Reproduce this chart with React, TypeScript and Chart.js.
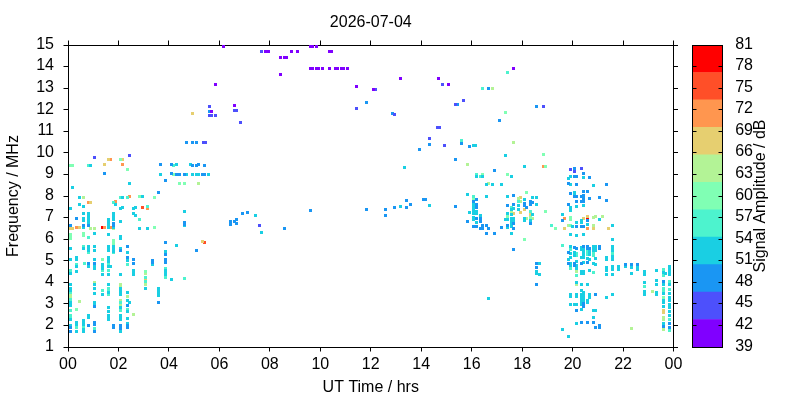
import React, { useEffect, useRef } from "react";
import { Chart, registerables } from "chart.js";

Chart.register(...registerables);

type Column = [number, number[]];

const chartDate = "2026-07-04";
const xAxisName = "UT Time / hrs";
const yAxisName = "Frequency / MHz";
const barName = "Signal Amplitude / dB";

const levelColors = ["#8000ff", "#4d50fc", "#1a96f3", "#1acfe3", "#4df3ce", "#80ffb4", "#b3f396", "#e6cf70", "#ff964f", "#ff4f28", "#ff0000"];
const levelEdges = [39, 42.82, 46.64, 50.45, 54.27, 58.09, 61.91, 65.73, 69.55, 73.36, 77.18, 81];

const purple: Column[] = [[6.15,[14.94]],[7.82,[14.71]],[7.93,[14.71]],[8.85,[14.71]],[9.09,[14.71]],[9.6,[14.94,13.92]],[9.68,[14.94,13.92]],[9.84,[14.94,13.92]],[10.35,[14.71,13.92]],[10.43,[14.71]],[8.41,[14.43,13.64]],[8.57,[14.43]],[8.65,[14.43]],[9.92,[13.92]],[10.08,[13.92]],[10.59,[13.92]],[10.67,[13.92]],[10.83,[13.92]],[10.91,[13.92]],[11.07,[13.92]],[5.83,[13.18]],[11.43,[13.08]],[13.17,[13.45]],[14.68,[13.45]],[15.08,[13.18]],[17.65,[13.92]],[12.1,[12.94]],[5.67,[11.92]],[6.59,[12.2]]];

const indigo: Column[] = [[7.66,[14.71]],[12.18,[12.94]],[5.59,[12.16,11.74]],[5.67,[11.74]],[5.83,[11.74]],[6.59,[11.97]],[6.67,[11.97]],[6.82,[11.41]],[11.43,[12.06]],[12.93,[11.79]],[14.84,[13.18]],[15.67,[12.43]],[15.35,[12.23]],[14.63,[11.18]],[14.71,[11.18]],[18.84,[12.15]],[14.32,[10.67]],[14.92,[10.35]],[1.07,[9.79]],[2.42,[9.88]],[5.38,[10.49]],[5.46,[10.49]],[7.58,[6.64]],[19.91,[9.24]],[20.07,[9.14]],[20.35,[9.28]]];

const blue: Column[] = [[5.59,[11.92]],[11.82,[12.34,7.38]],[12.85,[11.83]],[16.66,[12.99,6.5]],[15.43,[12.23]],[17.1,[11.51]],[18.57,[12.15]],[4.69,[10.49]],[4.92,[10.49]],[5.08,[10.49,9.42,5.48]],[14.32,[10.4]],[13.92,[10.16]],[15.59,[10.44]],[15.91,[10.3]],[15.35,[9.7,7.52]],[16.9,[9.19,6.27]],[1.43,[9.05]],[3.65,[9.47]],[4.09,[9.47,9.05]],[4.32,[9]],[4.4,[9]],[4.6,[9,6.78,6.7]],[4.92,[9.42]],[5.16,[9.47]],[5.32,[9]],[5.4,[9]],[5.43,[9.42]],[3.85,[8.73,5.85,5.3,5.07,4.93]],[3.57,[8.17,3.07]],[0.32,[6.96]],[0.83,[6.64,4.88,2]],[1.82,[6.73,6.64,2,1.91]],[0.08,[6.64,1.91,1.73]],[0.6,[6.64]],[2.1,[5.48,2,1.87]],[2.34,[5.67,5.16,2.93,2,1.91]],[2.58,[5.07,4.88]],[3.33,[5.02,4.93]],[1.07,[4.88,2.88,2.14,2.05,1.73]],[6.43,[6.83,6.69]],[6.59,[6.83]],[6.67,[6.92,6.73]],[6.9,[7.2]],[7.1,[7.24]],[8.57,[6.5]],[9.6,[7.34]],[12.57,[7.38,7.1]],[12.93,[7.47]],[13.41,[7.8,7.47]],[13.57,[7.61]],[14.08,[7.85]],[14.16,[7.85]],[15.83,[6.83]],[16.07,[7.75,6.6]],[16.18,[7.85,7.61,7.47,6.97,6.6]],[16.34,[6.97,6.83,6.5]],[16.42,[6.64,6.5]],[16.58,[6.64,6.27]],[17.18,[6.55]],[17.41,[7.57,6.64]],[17.65,[8.03,7.61,6.73,6.5,5.53]],[18.09,[7.66,7.57]],[18.17,[7.47]],[18.33,[7.75,7.61,6.73]],[18.41,[7.7]],[18.56,[4.88,4.7,3.9]],[19.6,[6.87]],[20.07,[9.28,8.91,7.98,5.62,4.88,4.79]],[20.43,[9.05,8.22,8.03,7.89,7.75,6.59,5.67,3.02,2.89]],[20.67,[8.87,7.89,5.57]],[20.15,[8.91,8.54,7.98,7.75,6.59,5.57,2.7]],[19.84,[8.59,7.61,5.39,4.88]],[21.34,[8.54,7.8]],[19.91,[8.12]],[20.35,[7.98,7.75,6.59,4.88,2.14]],[20.59,[8.22,6.87,5.67,5.57,4.92,2.14]],[21.06,[7.94,5.67,5.57,2,1.91]],[20.83,[2.14]],[20.9,[3.44,1.91]],[22.1,[4.83]],[22.33,[4.83]],[22.57,[4.83]],[23.6,[4.04,1.96]],[23.84,[2.1,1.91]]];

const cyan: Column[] = [[0.08,[7.43,5.57,5.07,4.41,3.9,3.72,3.63,3.07,2.93,2.28,2]],[0.16,[8.4]],[0.32,[5.16,5.07,4.74,4.5,2.14,2.05,1.73]],[0.44,[7.94,7.61]],[0.6,[7.52,7.2,6.96,6.87,6.55,5.57,2.23,2.14,2.05,1.82,1.73]],[0.83,[7.2,7.1,7,6.9,6.82,6.73,5.67,5.57,5.48,4.74,2.47,2.37]],[0.91,[9.42]],[1.07,[6.27,5.67,5.48,5.07,4.74,4.65,3.9,3.7,3.5,3.07,3]],[1.35,[4.83,4.74,4.65,4.37,3.44]],[1.59,[6.92,6.82,6.73,6.64,6.55,6.22,5.67,5.57,5.48,5.16,5.07,4.97,4.74,4.37,3.9,3.53,2.84,2.65,2.47,2.37,2.28]],[1.67,[4.74]],[1.82,[7.2,7.1,7,6.92,6.55,5.65,5.55,5.45]],[1.9,[7.61]],[2.1,[7.43,6.82,6.13,6.05,5.57,4.37,3.72,3.63,3.53,3.44,2.84,2.47,2.37,2.28,1.73]],[2.18,[7.94,7.47]],[2.34,[5.39,5.02,3.53,3.16,2.65,2.33,2.1]],[2.42,[8.59,3.07]],[2.58,[7.43,7.2,4.55,4.46,4.37]],[2.66,[7.47,7.1]],[2.82,[6.5]],[2.94,[7.98]],[3.09,[3.72]],[3.17,[6.5]],[3.33,[4.83]],[3.57,[3.72,3.63,3.53,3.4]],[3.65,[9]],[3.85,[5.44,4.55,4.46,4.37]],[4.09,[4.14]],[4.32,[9.47,5.71]],[4.6,[7.29,6.63]],[4.68,[9]],[4.84,[9.47]],[4.92,[9]],[5.08,[9]],[5.16,[9]],[5.58,[9]],[7.42,[7.1]],[7.66,[6.32]],[13.17,[7.52]],[13.33,[9.33]],[14.32,[7.57]],[15.35,[9.67]],[16.07,[10.35,7.66,7.57,7.47,7.38,7.28,7.2,7.01,6.89]],[16.17,[10.35]],[17.34,[9.89,6.92]],[18.09,[9.38,7.85,6.97,6.87]],[17.57,[8.91,7.38,7.15,6.97,6.87,6.73,6.58,6.27]],[16.18,[8.91,7.29,7.2,6.78]],[16.42,[8.91]],[16.58,[8.54,7.98]],[16.82,[8.54]],[17.18,[8.54]],[15.83,[8.08]],[17.41,[7.98,7.2,6.92,6.55]],[18.41,[7.94,7.15]],[18.56,[7.94,7.61,4.5,4.42]],[15.91,[7.24]],[16.34,[7.1]],[17.65,[7.43,6.97,6.87]],[17.85,[7.57,7.38]],[18.33,[6.87]],[19.6,[7.15,1.82]],[18.68,[4.88,4.37]],[16.66,[3.26]],[20.43,[8.87,7.57,6.22,5.53,5.39,5.25,5.16,4.92,4.51,4.42,3.53,3.39,3.25,3.16]],[19.84,[8.82,5.06,1.5]],[19.91,[8.91,8.54,7.47,7.34,6.22,5.67,5.34,5.16,4.88,4.79,3.44,3.35,2.98]],[20.07,[8.17,8.08,5.39,5.25,2.98]],[20.15,[7.52,6.78,6.18,4.97,4.79,4.65,4,3.44,3.35,2.98,2.1]],[20.83,[8.5,5.67,5.57,5.48,4.88,2.7,2.37]],[19.99,[6.59]],[20.35,[6.87,6.78,5.62,5.53,5.16,4.51,4.42,3.9,3.63,3.44,3.3,3.16,3.02,2.98,2.75]],[20.59,[6.69,5.11,3.9,3.16,3.07]],[21.06,[6.92]],[21.58,[6.64,5.99,5.67,5.57,5.48,5.2,5.06,4.74,4.6,4.37,3.44]],[20.67,[5.44,5.3,5.06,4.55,3.44,3.3]],[20.9,[5.67,5.57,5.48,5.11,4.83,2.7]],[21.34,[5.16,5.06,4.69,4.55,4.37,3.3]],[21.82,[4.74,4.6]],[22.1,[4.74]],[22.33,[4.69,4.42]],[22.57,[4.69,4.6]],[22.85,[4.51,4.37,4,3.58,3.44]],[23.33,[4.55,4.09,3.9,3.53,3.44]],[23.6,[4.46,3.9,3.49,3.16,3.07,2.89,2.1]],[23.68,[4.42]],[23.84,[4.74,4.6,4.46,4.37,3.9,3.49,3.3,3.16,2.97,2.84,2.65,2.47]]];

const teal: Column[] = [[0.83,[9.42,6.08,5.39]],[0.08,[4.55,3.53,3.2,2.7,2.47,2.37]],[0.6,[5.67,1.91]],[0.32,[4.83,1.91]],[0.67,[4.88]],[1.35,[4.55,3.63]],[1.07,[1.87]],[1.59,[4.88,4.55,3.72,3.63,3.44]],[1.82,[7.7,5.39]],[2.1,[7.94,3.07,2.7]],[2.34,[7.94,5,4.83,2.74]],[2.82,[6.92]],[3.17,[7.52]],[3.85,[4.65,4.23]],[3.09,[4.23,4.04]],[4.17,[9.42]],[4.6,[4.18]],[15.59,[10.58]],[16.07,[7.98]],[16.18,[9]],[16.34,[8.91]],[16.42,[12.99]],[17.42,[13.73]],[17.85,[7.75]],[18.33,[7.29]],[19.16,[6.64]],[19.6,[5.71]],[19.91,[5.53,4.65]],[20.15,[5.34,5.25,4.32]],[20.59,[5.44,5.3]],[20.83,[5.34,5.25,4.46]],[21.58,[5.34]],[22.85,[3.81]],[23.6,[4.6,4.32,3.72,3.63]],[23.84,[4.04,3.67,2.28,1.77]],[17.57,[7.47]]];

const mint: Column[] = [[0.08,[9.42,6.22,6.13,6.04]],[0.16,[9.42]],[0.6,[6.27,6.18]],[0.32,[2.74]],[1.35,[5.07]],[1.82,[5.94,5.85,5.76]],[2.1,[9.7]],[2.34,[9.23]],[2.82,[7.98]],[3.41,[7.94,6.55]],[3.09,[4.5]],[4.17,[9]],[4.4,[8.59]],[4.6,[8.59]],[17.34,[11.88]],[18.92,[9.38,7.29]],[18.84,[9.93]],[17.41,[9,7.06]],[18.17,[8.17]],[16.07,[7.89]],[16.42,[9]],[18.33,[7.01]],[19.32,[6.5]],[18.09,[5.99]],[19.91,[7.01,6.92,6.64]],[23.6,[3.3]]];

const lime: Column[] = [[0.08,[3.4,3.3]],[0.44,[3.11]],[0.6,[7.94]],[0.91,[6.5]],[1.07,[6.5,3.99]],[1.82,[6.5]],[3.09,[4.4,3.9]],[2.1,[3.9,3.81,3.16,2.98]],[2.34,[3.35]],[2.58,[2.51]],[5.16,[8.59]],[17.65,[10.49]],[15.83,[9.47]],[16.66,[8.59]],[16.82,[12.99]],[17.85,[7.89]],[17.93,[7.75]],[17.57,[7.24]],[18.17,[6.97]],[18.41,[6.97]],[19.84,[6.64]],[20.83,[7.01,6.64]],[20.9,[7.06]],[21.18,[7.06]],[22.33,[1.87]],[23.17,[3.58]],[23.6,[2.37,2.28,1.82]],[20.15,[4.51,3.9]]];

const khaki: Column[] = [[1.59,[9.7]],[2.18,[9.7]],[1.43,[9.47]],[0.91,[7.7]],[0.08,[6.5]],[0.16,[6.5]],[0.44,[6.52]],[5.32,[5.9]],[3.09,[4.18]],[4.92,[11.83]],[17.93,[7.95,7.24]],[17.65,[7.2]],[18.09,[7.38]],[18.33,[7.15]],[19.68,[6.5]],[20.43,[6.97]],[20.59,[7.04]],[20.83,[6.5]],[21.42,[6.5]],[23.6,[2.7,2.6]]];

const orange: Column[] = [[1.67,[9.7,6.55]],[2.18,[9.47]],[0.83,[7.7]],[1.9,[7.75]],[2.42,[7.98]],[3.17,[7.43]],[0.32,[6.55]],[1.43,[6.55]],[18.84,[9.38]],[19.68,[6.97]],[20.59,[6.5]]];

const redOrange: Column[] = [[2.94,[7.47]],[5.43,[5.85]]];

const red: Column[] = [[1.35,[6.55]],[20.59,[6.93]]];

const levels = [purple, indigo, blue, cyan, teal, mint, lime, khaki, orange, redOrange, red];

const font = { family: "'Liberation Sans', Arial, sans-serif", size: 16 };
const ink = "#000000";

const snapSquares = {
  id: "snapSquares",
  beforeDatasetsDraw(chart: any) {
    chart.getSortedVisibleDatasetMetas().forEach((meta: any) => {
      meta.data.forEach((p: any) => {
        p.x = Math.floor(p.x) + 0.5;
        p.y = Math.floor(p.y) + 0.5;
      });
    });
  },
};

const size = (prop: "width" | "height", value: number) => (scale: any) => {
  scale[prop] = value;
};

export default function App() {
  const mainRef = useRef<HTMLCanvasElement>(null);
  const barRef = useRef<HTMLCanvasElement>(null);

  useEffect(() => {
    const outer = (extra: object) => ({
      type: "linear",
      grid: { drawOnChartArea: false, color: ink, lineWidth: 1, tickLength: 4.5 },
      border: { display: true, color: ink, width: 1 },
      ...extra,
    });
    const main = new Chart(mainRef.current as HTMLCanvasElement, {
      type: "scatter",
      data: {
        datasets: levels.map((cols, i) => ({
          label: String(levelEdges[i]),
          data: cols.flatMap(([x, ys]) => ys.map((y) => ({ x, y }))),
          backgroundColor: levelColors[i],
          pointStyle: "rect",
          pointRadius: 2.1214,
          pointBorderWidth: 0,
        })),
      },
      options: {
        responsive: false,
        animation: false,
        layout: { padding: 0 },
        plugins: {
          legend: { display: false },
          tooltip: { enabled: false },
          title: { display: true, text: chartDate, fullSize: false, color: ink, font: { ...font, weight: "normal" }, padding: { top: 13, bottom: 0 } },
        },
        scales: {
          x: outer({
            position: "bottom", min: 0, max: 24,
            ticks: { stepSize: 2, color: ink, font, padding: 3, maxRotation: 0, autoSkip: false, callback: (v: any) => String(Number(v) % 24).padStart(2, "0") },
            title: { display: true, text: xAxisName, color: ink, font, padding: { top: 0, bottom: 2.4 } },
            afterFit: size("height", 53),
          }),
          x2: outer({
            position: "top", min: 0, max: 24,
            ticks: { display: false, stepSize: 2, autoSkip: false },
            afterFit: size("height", 12.8),
          }),
          y: outer({
            position: "left", min: 1, max: 15,
            ticks: { stepSize: 1, color: ink, font, padding: 9.5, autoSkip: false, labelOffset: -0.5 },
            title: { display: true, text: yAxisName, color: ink, font, padding: { top: 4, bottom: 0 } },
            afterFit: size("width", 68),
          }),
          y2: outer({
            position: "right", min: 1, max: 15,
            ticks: { display: false, stepSize: 1, autoSkip: false },
            afterFit: size("width", 126.5),
          }),
        },
      } as any,
      plugins: [snapSquares],
    } as any);

    const barGrid = { drawOnChartArea: false, color: ink, lineWidth: 1, tickLength: -4, z: 1 };
    const barBorder = { display: true, color: ink, width: 1, z: 1 };
    const bar = new Chart(barRef.current as HTMLCanvasElement, {
      type: "bar",
      data: {
        labels: [""],
        datasets: levelColors.map((color, i) => ({
          data: [[levelEdges[i], levelEdges[i + 1]]],
          backgroundColor: color,
          borderWidth: 0,
          barPercentage: 1,
          categoryPercentage: 1,
          grouped: false,
        })),
      },
      options: {
        responsive: false,
        animation: false,
        plugins: { legend: { display: false }, tooltip: { enabled: false }, title: { display: false } },
        scales: {
          x: {
            position: "bottom",
            grid: { display: false }, ticks: { display: false }, border: barBorder,
            afterFit: size("height", 53),
          },
          x2: {
            type: "category", position: "top", labels: [""],
            grid: { display: false }, ticks: { display: false }, border: barBorder,
            afterFit: size("height", 45),
          },
          y: {
            type: "linear", position: "right", min: 39, max: 81,
            grid: barGrid, border: barBorder,
            ticks: { stepSize: 3, color: ink, font, padding: 16.7, autoSkip: false, labelOffset: -0.8 },
            afterFit: size("width", 77.5),
          },
          y2: {
            type: "linear", position: "left", min: 39, max: 81,
            grid: barGrid, border: barBorder,
            ticks: { display: false, stepSize: 3, autoSkip: false },
            title: { display: true, text: barName, color: ink, font, padding: { top: 750.9, bottom: 0 } },
            afterFit: size("width", 692.5),
          },
        },
      } as any,
    } as any);

    return () => {
      main.destroy();
      bar.destroy();
    };
  }, []);

  const layer: React.CSSProperties = { position: "fixed", left: 0, top: 0, width: 800, height: 400 };
  return (
    <div style={{ ...layer, background: "#ffffff" }}>
      <canvas ref={mainRef} width={800} height={400} style={layer} />
      <canvas ref={barRef} width={800} height={400} style={layer} />
    </div>
  );
}
